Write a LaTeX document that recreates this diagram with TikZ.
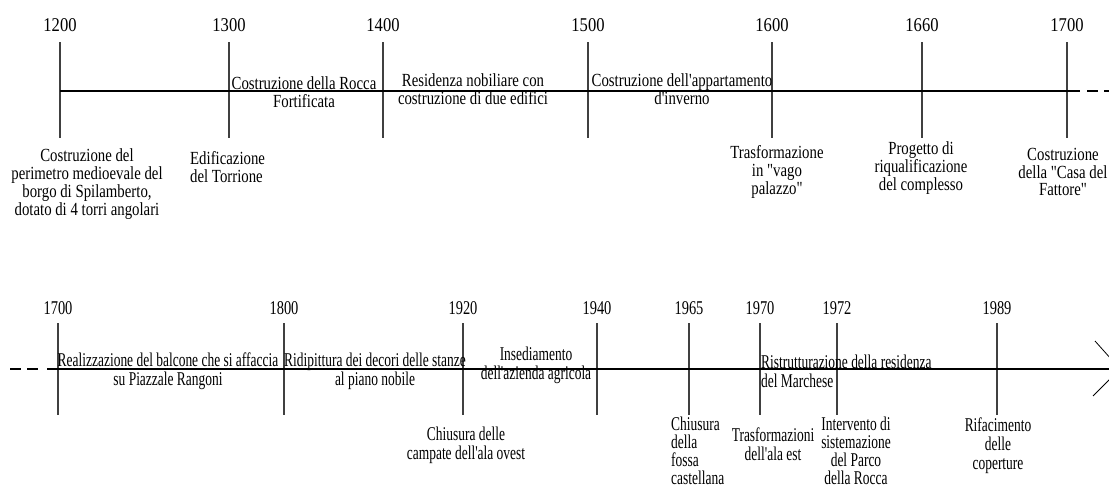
\documentclass[tikz,border=0pt]{standalone}
\usepackage{fontspec}
\setmainfont{Liberation Serif}[Ligatures=TeXOff]
\newfontfamily\topfont{Liberation Serif}[FakeStretch=0.8, Ligatures=TeXOff]
\newfontfamily\botfont{Liberation Serif}[FakeStretch=0.69, Ligatures=TeXOff]
\newfontfamily\topyearfont{Liberation Serif}[FakeStretch=0.85]
\newfontfamily\botyearfont{Liberation Serif}[FakeStretch=0.74]
\usetikzlibrary{arrows}
\tikzstyle{year} = [font=\topyearfont\fontsize{19.5}{20}\selectfont, inner sep=0pt]
\tikzstyle{lowyear} = [font=\botyearfont\fontsize{19.5}{20}\selectfont, inner sep=0pt]
\tikzstyle{event} = [font=\topfont\fontsize{18.5}{17.8}\selectfont, align=center, inner sep=0pt]
\tikzstyle{eventl} = [event, align=left, anchor=west]
\tikzstyle{lowevent} = [font=\botfont\fontsize{19.5}{19}\selectfont, align=center, inner sep=0pt]
\tikzstyle{loweventl} = [lowevent, align=left, anchor=west]
\tikzstyle{tight} = [font=\botfont\fontsize{19.5}{18.2}\selectfont]
\tikzstyle{axis} = [line width=1.2pt]
\tikzstyle{tick} = [line width=1.3pt, black!75]
\tikzstyle{ext} = [line width=1.2pt, dash pattern=on 11pt off 6pt]
\tikzstyle{tip} = [line width=0.8pt]

\begin{document}
\begin{tikzpicture}[x=1pt,y=-1pt]
			\useasboundingbox (0,0) rectangle (1109,490);
			% Years and ticks
			\foreach \yr/\x in {1200/60, 1300/229, 1400/383, 1500/588, 1600/772, 1660/922, 1700/1067} {
				\node (a\yr) [year] at (\x,25) {\yr};
				\coordinate (a\yr t) at (\x,42);
				\coordinate (a\yr b) at (\x,138);
				\draw [tick] (a\yr t) -- (a\yr b);
			}
			\foreach \yr/\x in {1700/58, 1800/284, 1920/463, 1940/597, 1965/689, 1970/760, 1972/837, 1989/997} {
				\node (b\yr) [lowyear] at (\x,308) {\yr};
				\coordinate (b\yr t) at (\x,323);
				\coordinate (b\yr b) at (\x,415);
				\draw [tick] (b\yr t) -- (b\yr b);
			}
			
			% Axes
			\coordinate (astart) at (60,91);
			\coordinate (aend) at (1080,91);
			\coordinate (adash) at (1087,91);
			\coordinate (aout) at (1116,91);
			\draw [axis] (astart) -- (aend);
			\draw [ext] (adash) -- (aout);
			\coordinate (bdash) at (10,369);
			\coordinate (bdashend) at (40,369);
			\coordinate (bstart) at (47,369);
			\coordinate (btip) at (1120,369);
			\coordinate (bup) at (1095,341);
			\coordinate (blow) at (1093,396);
			\draw [ext] (bdash) -- (bdashend);
			\draw [axis] (bstart) -- (btip);
			\draw [tip] (bup) -- (btip) -- (blow);
			
			% Events (top)
			\node (rocca) [event] at (304,92) {Costruzione della Rocca\\Fortificata};
			\node (residenza) [event] at (473,89) {Residenza nobiliare con\\costruzione di due edifici};
			\node (appartamento) [event] at (682,89) {Costruzione dell'appartamento\\d'inverno};
			\node (borgo) [event] at (87,184) {Costruzione del\\perimetro medioevale del\\borgo di Spilamberto,\\dotato di 4 torri angolari};
			\node (torrione) [eventl] at (190,167) {Edificazione\\del Torrione};
			\node (palazzo) [event] at (777,172) {Trasformazione\\in "vago\\palazzo"};
			\node (progetto) [event] at (921,168) {Progetto di\\riqualificazione\\del complesso};
			\node (fattore) [event] at (1063,172) {Costruzione\\della "Casa del\\Fattore"};
			
			% Events (bottom)
			\node (balcone) [lowevent] at (168,371) {Realizzazione del balcone che si affaccia\\su Piazzale Rangoni};
			\node (decori) [lowevent] at (375,371) {Ridipittura dei decori delle stanze\\al piano nobile};
			\node (azienda) [lowevent] at (536,365) {Insediamento\\dell'azienda agricola};
			\node (marchese) [loweventl] at (761,371) {Ristrutturazione della residenza\\del Marchese};
			\node (campate) [lowevent] at (466,445) {Chiusura delle\\campate dell'ala ovest};
			\node (fossa) [loweventl, tight] at (671,451) {Chiusura\\della\\fossa\\castellana};
			\node (alaest) [lowevent] at (773,444) {Trasformazioni\\dell'ala est};
			\node (parco) [lowevent, tight] at (856,451) {Intervento di\\sistemazione\\del Parco\\della Rocca};
			\node (coperture) [lowevent] at (998,446) {Rifacimento\\delle\\coperture};
		\end{tikzpicture}
\end{document}
